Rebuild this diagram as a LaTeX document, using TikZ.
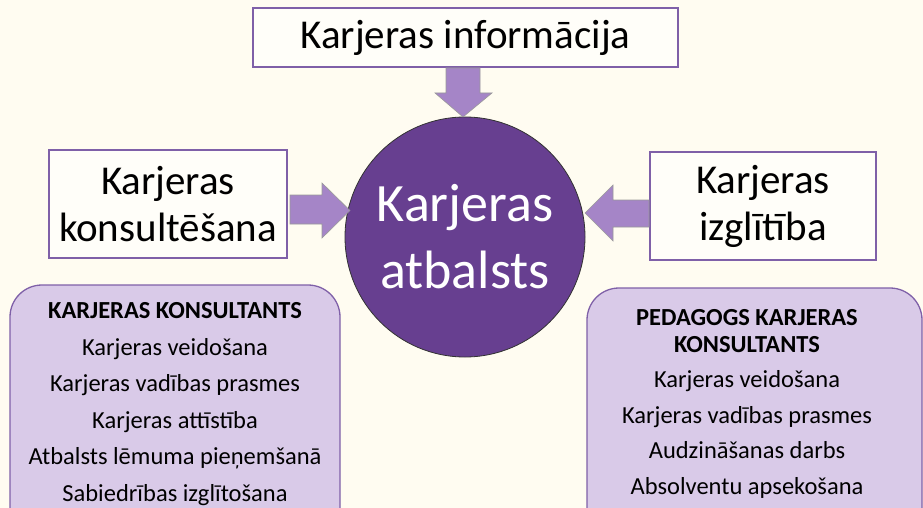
\documentclass[tikz,border=0pt]{standalone}
\usepackage{fontspec}
\setmainfont{Carlito}
\definecolor{bgc}{HTML}{FFFCF1}
\definecolor{boxline}{HTML}{7F60A8}
\definecolor{arrowc}{HTML}{A585C7}
\definecolor{circc}{HTML}{673F90}
\definecolor{pillc}{HTML}{D9CAE8}
\tikzset{
  topbox/.style={draw=boxline, line width=1.2pt, fill=white!60!bgc, inner sep=0pt},
  blockarrow/.style={fill=arrowc, draw=gray!80, line width=0.6pt},
  pill/.style={draw=boxline, line width=1.3pt, fill=pillc, rounded corners=32pt},
  pilltxt/.style={anchor=base, font=\fontsize{24.5}{28}\selectfont, inner sep=0pt},
  pillhead/.style={anchor=base, font=\fontsize{24.5}{28}\selectfont\bfseries, inner sep=0pt},
}
\begin{document}
\begin{tikzpicture}[x=1pt,y=-1pt]
\fill[bgc] (0,0) rectangle (923,508);
\useasboundingbox (0,0) rectangle (923,508);
\clip (0,0) rectangle (923,508);

% top box
\node[topbox, minimum width=425pt, minimum height=59pt,
      font=\fontsize{41}{50}\selectfont] (info) at (465.5,37.5) {\raisebox{-3pt}{Karjeras informācija}};
% left box
\node[topbox, minimum width=238pt, minimum height=108pt, align=center,
      font=\fontsize{41}{47}\selectfont] (kons) at (168,204) {Karjeras\\konsultēšana};
% right box
\node[topbox, minimum width=226pt, minimum height=108pt, align=center,
      font=\fontsize{41}{47}\selectfont] (izgl) at (763,206) {Karjeras\\izglītība};

% circle
\node[circle, fill=circc, draw=black!80, line width=0.8pt, minimum size=240pt,
      text=white, align=center, font=\fontsize{54}{67}\selectfont] (atb) at (465,237)
      {Karjeras\\atbalsts};

% block arrows
\draw[blockarrow] (446,68) -- (480,68) -- (480,93) -- (492,93) -- (463,117)
   -- (435,93) -- (446,93) -- cycle;
\draw[blockarrow] (290,195) -- (322,195) -- (322,183) -- (350,210.5)
   -- (322,238) -- (322,224) -- (290,224) -- cycle;
\draw[blockarrow] (649,200) -- (613,200) -- (613,185) -- (585,213)
   -- (613,241) -- (613,227) -- (649,227) -- cycle;

% pills
\draw[pill] (10,285) rectangle (340,560);
\draw[pill] (587,288) rectangle (922,560);

\node[pillhead] (lh) at (175,318) {KARJERAS KONSULTANTS};
\node[pilltxt] (l1) at (175,355) {Karjeras veidošana};
\node[pilltxt] (l2) at (175,391) {Karjeras vadības prasmes};
\node[pilltxt] (l3) at (175,428) {Karjeras attīstība};
\node[pilltxt] (l4) at (175,464) {Atbalsts lēmuma pieņemšanā};
\node[pilltxt] (l5) at (175,501) {Sabiedrības izglītošana};

\node[pillhead] (rh1) at (747,325) {PEDAGOGS KARJERAS};
\node[pillhead] (rh2) at (747,352) {KONSULTANTS};
\node[pilltxt] (r1) at (747,387) {Karjeras veidošana};
\node[pilltxt] (r2) at (747,423) {Karjeras vadības prasmes};
\node[pilltxt] (r3) at (747,458) {Audzināšanas darbs};
\node[pilltxt] (r4) at (747,494) {Absolventu apsekošana};
\end{tikzpicture}
\end{document}
